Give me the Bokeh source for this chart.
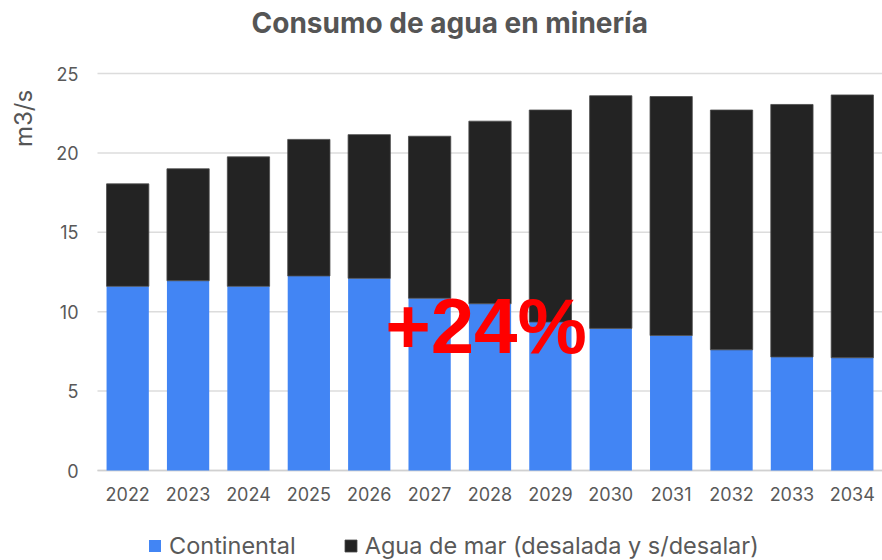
import math
from bokeh.plotting import figure
from bokeh.models import ColumnDataSource, Range1d, Legend, LegendItem, Label
from bokeh.core.properties import value
from bokeh.embed import file_html
from bokeh.resources import INLINE

# ---- data ----
years = ["2022", "2023", "2024", "2025", "2026", "2027", "2028",
         "2029", "2030", "2031", "2032", "2033", "2034"]
continental = [11.6, 11.95, 11.6, 12.25, 12.1, 10.85, 10.5, 9.35, 8.95, 8.5, 7.6, 7.15, 7.1]
agua_mar = [6.45, 7.05, 8.15, 8.6, 9.05, 10.2, 11.5, 13.35, 14.65, 15.05, 15.1, 15.9, 16.55]
series = ["continental", "agua_mar"]
series_labels = ["Continental", "Agua de mar (desalada y s/desalar)"]
y_ticks = [0, 5, 10, 15, 20, 25]
y_tick_labels = ["0", "5", "10", "15", "20", "25"]
title_text = "Consumo de agua en minería"
y_label_text = "m3/s"
note_text = "+24%"
note_year = "2028"
note_y = 9.1

FONT = "Inter"
TXT = "#595959"
BLUE = "#4285F4"
DARK = "#232323"

n = len(years)
xs = [i + 0.5 for i in range(n)]          # category slots 0..n on the x scale
source = ColumnDataSource(data=dict(x=xs, years=years, continental=continental,
                                    agua_mar=agua_mar, zero=[0] * n))

# The frame covers the whole canvas; the category area begins 97px from the left
# and value 0 sits 90px above the bottom, 25 sits 73px below the top.
p = figure(x_range=Range1d(-1.6064, n), y_range=Range1d(-5.667, 29.597),
           width=882, height=560, output_backend="svg", toolbar_location=None,
           x_axis_location=None, y_axis_location=None,
           min_border_left=0, min_border_right=0, min_border_top=0, min_border_bottom=0)
p.outline_line_color = None
p.grid.visible = False

# horizontal grid lines over the category area
grid_src = ColumnDataSource(data=dict(y=y_ticks, x0=[0] * len(y_ticks), x1=[n] * len(y_ticks),
                                      lab=y_tick_labels))
p.segment(x0="x0", y0="y", x1="x1", y1="y", source=grid_src,
          line_color="#dcdcdc", line_width=1.5)
# x axis line
p.segment(x0=[0], y0=[0], x1=[n], y1=[0], line_color="#d0d0d0", line_width=1.5)

rs = p.vbar_stack(series, x="x", width=0.7, source=source,
                  color=[BLUE, DARK], line_color=[BLUE, "#4a4a4a"], line_width=[0, 0.8])

# y tick labels
p.text(x="x0", y="y", text="lab", source=grid_src, text_font=value(FONT),
       text_font_size="18px", text_color=TXT, text_align="right", text_baseline="middle",
       x_offset=-19)

# category labels
p.text(x="x", y="zero", text="years", source=source, text_font=value(FONT),
       text_font_size="18px", text_color=TXT, text_align="center", text_baseline="top",
       y_offset=16)

# title
p.add_layout(Label(x=251, y=538, x_units="screen", y_units="screen", text=title_text,
                   text_font=FONT, text_font_size="28px", text_font_style="bold",
                   text_color="#555555", text_align="left", text_baseline="alphabetic"))
# y label
p.add_layout(Label(x=23, y=442, x_units="screen", y_units="screen", text=y_label_text,
                   angle=math.pi / 2, text_font=FONT, text_font_size="24px",
                   text_color="#555555", text_align="center", text_baseline="middle"))

# note
note_src = ColumnDataSource(data=dict(x=[xs[years.index(note_year)]], y=[note_y], t=[note_text]))
p.text(x="x", y="y", text="t", source=note_src, text_font=value("Liberation Sans"),
       text_font_size="78px", text_font_style="bold", text_color="#FF0000",
       text_align="center", text_baseline="middle", x_offset=-4)

# legend
lg = Legend(items=[LegendItem(label=series_labels[i], renderers=[rs[i]]) for i in range(2)])
lg.orientation = "horizontal"
lg.location = (147, 0)
lg.padding = 0
lg.margin = 0
lg.spacing = 47
lg.border_line_color = None
lg.background_fill_alpha = 0
lg.glyph_width = 15
lg.glyph_height = 15
lg.label_standoff = 7
lg.label_text_font = FONT
lg.label_text_font_size = "23.5px"
lg.label_text_color = TXT
p.add_layout(lg, "center")

open("out.html", "w").write(file_html(p, INLINE))
